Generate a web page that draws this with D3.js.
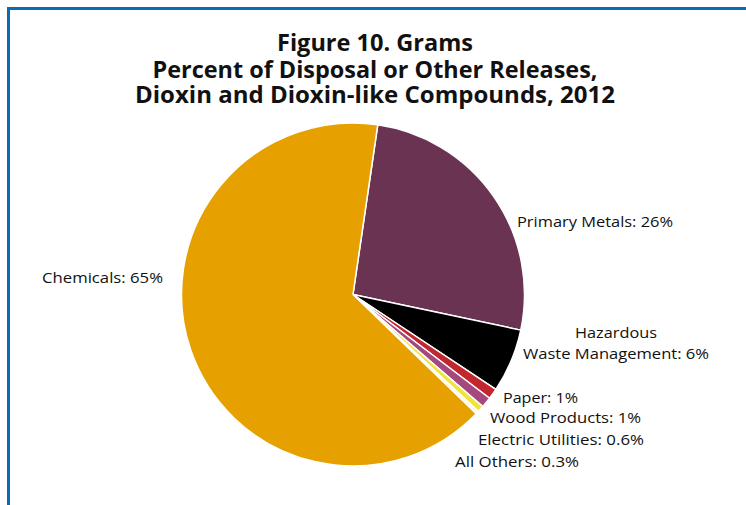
<!DOCTYPE html>
<html>
<head>
<meta charset="utf-8">
<script src="https://cdn.jsdelivr.net/npm/d3@7"></script>
<style>
  html, body { margin: 0; padding: 0; background: #fff; }
  svg { display: block; }
  text { font-family: "Open Sans", "Noto Sans", sans-serif; fill: #111; }
</style>
</head>
<body>
<svg id="chart" width="746" height="505"></svg>
<script>
const titleLines = ["Figure 10. Grams", "Percent of Disposal or Other Releases,", "Dioxin and Dioxin-like Compounds, 2012"];
const categories = ["Primary Metals", "Hazardous Waste Management", "Paper", "Wood Products", "Electric Utilities", "All Others", "Chemicals"];
const values = [26, 6, 1, 1, 0.6, 0.3, 65];
const valueLabels = ["26%", "6%", "1%", "1%", "0.6%", "0.3%", "65%"];
const colors = ["#6a3352", "#000000", "#c1272d", "#a4487e", "#f2e23c", "#fbf6e2", "#e6a100"];

const svg = d3.select("#chart");
const W = 746, H = 505;

// frame
svg.append("path")
  .attr("d", `M8.5,${H} L8.5,8.5 L${W},8.5`)
  .attr("fill", "none").attr("stroke", "#0a6db1").attr("stroke-width", 3);

// title
const titleWidths = [196, 445, 480];
const titleY = [51, 78, 103];
titleLines.forEach((t, i) => {
  svg.append("text")
    .attr("x", 375).attr("y", titleY[i])
    .attr("text-anchor", "middle")
    .attr("font-size", 24).attr("font-weight", "bold")
    .attr("textLength", titleWidths[i]).attr("lengthAdjust", "spacingAndGlyphs")
    .text(t);
});

// pie
const cx = 353, cy = 294.5, r = 171.5;
const data = categories.map((c, i) => ({ name: c, value: values[i], color: colors[i] }));
const start = 8.3 * Math.PI / 180;
const pie = d3.pie().value(d => d.value).sort(null).startAngle(start).endAngle(start + 2 * Math.PI);
const arc = d3.arc().innerRadius(0).outerRadius(r);
const g = svg.append("g").attr("transform", `translate(${cx},${cy})`);
g.selectAll("path").data(pie(data)).join("path")
  .attr("d", arc)
  .attr("fill", d => d.data.color)
  .attr("stroke", "#fff").attr("stroke-width", 1.5).attr("stroke-linejoin", "round");

// labels
const labels = [
  { lines: ["Primary Metals: " + valueLabels[0]], x: [517], y: [227], w: [156], anchor: "start" },
  { lines: ["Hazardous", "Waste Management: " + valueLabels[1]], x: [616, 616], y: [338, 359], w: [82, 186], anchor: "middle" },
  { lines: ["Paper: " + valueLabels[2]], x: [503], y: [403], w: [75], anchor: "start" },
  { lines: ["Wood Products: " + valueLabels[3]], x: [490], y: [423], w: [151], anchor: "start" },
  { lines: ["Electric Utilities: " + valueLabels[4]], x: [478], y: [445], w: [166], anchor: "start" },
  { lines: ["All Others: " + valueLabels[5]], x: [455], y: [467], w: [124], anchor: "start" },
  { lines: ["Chemicals: " + valueLabels[6]], x: [42], y: [283], w: [121], anchor: "start" }
];
labels.forEach(l => {
  l.lines.forEach((t, j) => {
    svg.append("text")
      .attr("x", l.x[j]).attr("y", l.y[j])
      .attr("text-anchor", l.anchor)
      .attr("font-size", 15)
      .attr("textLength", l.w[j]).attr("lengthAdjust", "spacingAndGlyphs")
      .text(t);
  });
});
</script>
</body>
</html>
